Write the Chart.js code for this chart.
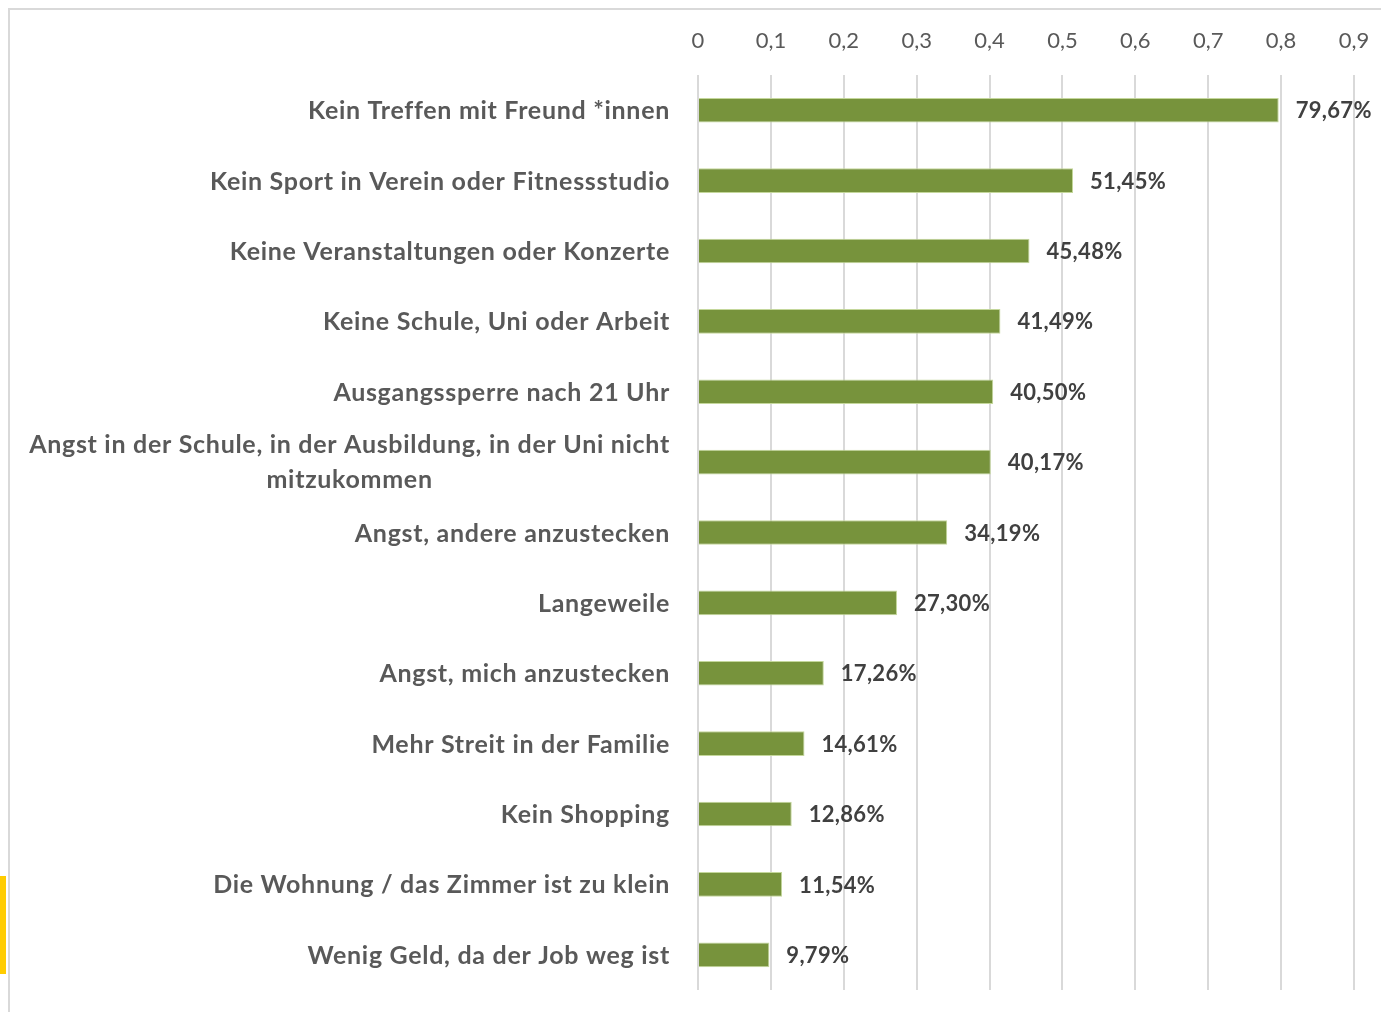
<!DOCTYPE html>
<html>
<head>
    <title>Belastungen im Lockdown</title>
    <script src="https://cdn.jsdelivr.net/npm/chart.js@4"></script>
    <style>
        body { margin: 0; background: #fff; }
        #frame {
            position: absolute;
            left: 8px;
            top: 8px;
            width: 1373px;
            height: 1004px;
            border-left: 2px solid #d9d9d9;
            border-top: 2px solid #d9d9d9;
        }
        #stripe {
            position: absolute;
            left: 0;
            top: 876px;
            width: 6px;
            height: 98px;
            background: #ffcc00;
        }
        #wrap {
            position: absolute;
            left: 0;
            top: 0;
            width: 1381px;
            height: 1012px;
        }
    </style>
</head>
<body>
<div id="frame"></div>
<div id="stripe"></div>
<div id="wrap"><canvas id="barChart"></canvas></div>
<script>
    // Categories, top to bottom
    const categories = [
        ['Kein Treffen mit Freund *innen'],
        ['Kein Sport in Verein oder Fitnessstudio'],
        ['Keine Veranstaltungen oder Konzerte'],
        ['Keine Schule, Uni oder Arbeit'],
        ['Ausgangssperre nach 21 Uhr'],
        ['Angst in der Schule, in der Ausbildung, in der Uni nicht', 'mitzukommen'],
        ['Angst, andere anzustecken'],
        ['Langeweile'],
        ['Angst, mich anzustecken'],
        ['Mehr Streit in der Familie'],
        ['Kein Shopping'],
        ['Die Wohnung / das Zimmer ist zu klein'],
        ['Wenig Geld, da der Job weg ist']
    ];
    const shares = [0.7967, 0.5145, 0.4548, 0.4149, 0.4050, 0.4017, 0.3419, 0.2730, 0.1726, 0.1461, 0.1286, 0.1154, 0.0979];
    const tickValues = [0, 0.1, 0.2, 0.3, 0.4, 0.5, 0.6, 0.7, 0.8, 0.9];

    const fmtTick = v => v === 0 ? '0' : v.toFixed(1).replace('.', ',');
    const fmtPct = v => (v * 100).toFixed(2).replace('.', ',') + '%';

    // Draws category names (centred multi-line) and the value labels
    const labelPlugin = {
        id: 'labels',
        afterDatasetsDraw(chart) {
            const ctx = chart.ctx;
            const xs = chart.scales.x;
            const ys = chart.scales.y;
            ctx.save();
            ctx.textBaseline = 'middle';
            ctx.font = 'bold 25px Lato';
            ctx.letterSpacing = '0.7px';
            ctx.fillStyle = '#595959';
            categories.forEach((lines, i) => {
                const y = ys.getPixelForValue(i) + 1;
                const right = xs.left - 28;
                if (lines.length === 1) {
                    ctx.textAlign = 'right';
                    ctx.fillText(lines[0], right, y);
                } else {
                    const w = Math.max(...lines.map(l => ctx.measureText(l).width));
                    const cx = right - w / 2;
                    const lh = 35;
                    ctx.textAlign = 'center';
                    lines.forEach((l, k) => {
                        ctx.fillText(l, cx, y + (k - (lines.length - 1) / 2) * lh - 1);
                    });
                }
            });
            ctx.font = 'bold 22px Lato';
            ctx.letterSpacing = '0.3px';
            ctx.fillStyle = '#404040';
            ctx.textAlign = 'left';
            shares.forEach((v, i) => {
                ctx.fillText(fmtPct(v), xs.getPixelForValue(v) + 17, ys.getPixelForValue(i) + 1);
            });
            ctx.restore();
        }
    };

    new Chart(document.getElementById('barChart'), {
        type: 'bar',
        data: {
            labels: categories.map(c => c.join(' ')),
            datasets: [{
                data: shares,
                backgroundColor: '#77933c',
                borderColor: '#c4d79b',
                borderWidth: 1,
                barPercentage: 0.35,
                categoryPercentage: 1
            }]
        },
        options: {
            indexAxis: 'y',
            responsive: true,
            maintainAspectRatio: false,
            animation: false,
            layout: { padding: { left: 0, right: 27, top: 0, bottom: 22 } },
            plugins: {
                legend: { display: false },
                tooltip: { enabled: false }
            },
            scales: {
                x: {
                    position: 'top',
                    min: 0,
                    max: 0.9,
                    afterBuildTicks: s => { s.ticks = tickValues.map(v => ({ value: v })); },
                    afterFit: s => { s.height = 75; s.paddingLeft = 0; s.paddingRight = 0; },
                    grid: { color: '#d9d9d9', lineWidth: 2, drawTicks: false },
                    border: { display: false },
                    ticks: {
                        padding: 21,
                        color: '#595959',
                        font: { family: 'Lato', size: 22 },
                        callback: v => fmtTick(v)
                    }
                },
                y: {
                    afterFit: s => { s.width = 698; },
                    grid: { display: false },
                    border: { display: false },
                    ticks: { display: false }
                }
            }
        },
        plugins: [labelPlugin]
    });
</script>
</body>
</html>
